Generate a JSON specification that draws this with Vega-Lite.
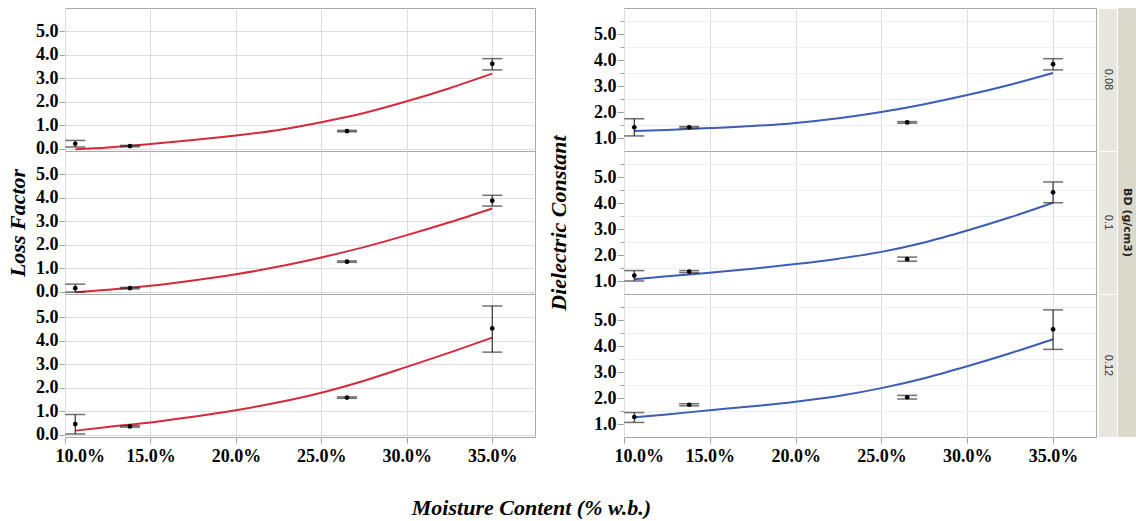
{
  "$schema": "https://vega.github.io/schema/vega-lite/v6.json",
  "padding": {"left": 6, "top": 7, "right": 0, "bottom": 0},
  "config": {
    "font": "Liberation Serif",
    "view": {"stroke": "#a8a8a8"},
    "axis": {
      "labelFont": "Liberation Serif", "labelFontSize": 18, "labelFontWeight": "bold", "labelColor": "#000000",
      "gridColor": "#dcdcdc", "domain": false, "tickColor": "#a0a0a0", "tickSize": 6, "labelPadding": 1, "title": null
    },
    "header": {
      "titleFont": "Liberation Serif", "titleFontSize": 22, "titleFontWeight": "bold", "titleFontStyle": "italic", "titleColor": "#000000",
      "labelPadding": 0
    }
  },
  "title": {
    "text": "Moisture Content (% w.b.)", "orient": "bottom", "anchor": "middle",
    "font": "Liberation Serif", "fontSize": 22, "fontStyle": "italic", "fontWeight": "bold", "color": "#000000",
    "offset": 33, "dx": -40
  },
  "datasets": {
    "lf": [
      {"BD": "0.08", "kind": "pt", "mc": 0.106, "mean": 0.21, "lo": 0.07, "hi": 0.35},
      {"BD": "0.08", "kind": "pt", "mc": 0.138, "mean": 0.11, "lo": 0.08, "hi": 0.14},
      {"BD": "0.08", "kind": "pt", "mc": 0.265, "mean": 0.75, "lo": 0.72, "hi": 0.78},
      {"BD": "0.08", "kind": "pt", "mc": 0.35, "mean": 3.62, "lo": 3.36, "hi": 3.84},
      {"BD": "0.1", "kind": "pt", "mc": 0.106, "mean": 0.15, "lo": -0.02, "hi": 0.32},
      {"BD": "0.1", "kind": "pt", "mc": 0.138, "mean": 0.15, "lo": 0.12, "hi": 0.18},
      {"BD": "0.1", "kind": "pt", "mc": 0.265, "mean": 1.28, "lo": 1.25, "hi": 1.31},
      {"BD": "0.1", "kind": "pt", "mc": 0.35, "mean": 3.88, "lo": 3.65, "hi": 4.11},
      {"BD": "0.12", "kind": "pt", "mc": 0.106, "mean": 0.45, "lo": 0.03, "hi": 0.86},
      {"BD": "0.12", "kind": "pt", "mc": 0.138, "mean": 0.35, "lo": 0.32, "hi": 0.38},
      {"BD": "0.12", "kind": "pt", "mc": 0.265, "mean": 1.58, "lo": 1.55, "hi": 1.61},
      {"BD": "0.12", "kind": "pt", "mc": 0.35, "mean": 4.53, "lo": 3.52, "hi": 5.49},
      {"BD": "0.08", "kind": "fit", "mc": 0.106, "val": -0.03},
      {"BD": "0.08", "kind": "fit", "mc": 0.125, "val": 0.05},
      {"BD": "0.08", "kind": "fit", "mc": 0.15, "val": 0.2},
      {"BD": "0.08", "kind": "fit", "mc": 0.175, "val": 0.37},
      {"BD": "0.08", "kind": "fit", "mc": 0.2, "val": 0.56},
      {"BD": "0.08", "kind": "fit", "mc": 0.225, "val": 0.8},
      {"BD": "0.08", "kind": "fit", "mc": 0.25, "val": 1.13},
      {"BD": "0.08", "kind": "fit", "mc": 0.275, "val": 1.52},
      {"BD": "0.08", "kind": "fit", "mc": 0.3, "val": 2.02},
      {"BD": "0.08", "kind": "fit", "mc": 0.325, "val": 2.58},
      {"BD": "0.08", "kind": "fit", "mc": 0.35, "val": 3.2},
      {"BD": "0.1", "kind": "fit", "mc": 0.106, "val": -0.03},
      {"BD": "0.1", "kind": "fit", "mc": 0.125, "val": 0.08},
      {"BD": "0.1", "kind": "fit", "mc": 0.15, "val": 0.25},
      {"BD": "0.1", "kind": "fit", "mc": 0.175, "val": 0.48},
      {"BD": "0.1", "kind": "fit", "mc": 0.2, "val": 0.74},
      {"BD": "0.1", "kind": "fit", "mc": 0.225, "val": 1.07},
      {"BD": "0.1", "kind": "fit", "mc": 0.25, "val": 1.46},
      {"BD": "0.1", "kind": "fit", "mc": 0.275, "val": 1.9},
      {"BD": "0.1", "kind": "fit", "mc": 0.3, "val": 2.41},
      {"BD": "0.1", "kind": "fit", "mc": 0.325, "val": 2.96},
      {"BD": "0.1", "kind": "fit", "mc": 0.35, "val": 3.55},
      {"BD": "0.12", "kind": "fit", "mc": 0.106, "val": 0.17},
      {"BD": "0.12", "kind": "fit", "mc": 0.125, "val": 0.33},
      {"BD": "0.12", "kind": "fit", "mc": 0.15, "val": 0.52},
      {"BD": "0.12", "kind": "fit", "mc": 0.175, "val": 0.76},
      {"BD": "0.12", "kind": "fit", "mc": 0.2, "val": 1.04},
      {"BD": "0.12", "kind": "fit", "mc": 0.225, "val": 1.38},
      {"BD": "0.12", "kind": "fit", "mc": 0.25, "val": 1.79},
      {"BD": "0.12", "kind": "fit", "mc": 0.275, "val": 2.3},
      {"BD": "0.12", "kind": "fit", "mc": 0.3, "val": 2.89},
      {"BD": "0.12", "kind": "fit", "mc": 0.325, "val": 3.5},
      {"BD": "0.12", "kind": "fit", "mc": 0.35, "val": 4.14}
    ],
    "dc": [
      {"BD": "0.08", "kind": "pt", "mc": 0.106, "mean": 1.41, "lo": 1.08, "hi": 1.74},
      {"BD": "0.08", "kind": "pt", "mc": 0.138, "mean": 1.41, "lo": 1.38, "hi": 1.44},
      {"BD": "0.08", "kind": "pt", "mc": 0.265, "mean": 1.6, "lo": 1.57, "hi": 1.63},
      {"BD": "0.08", "kind": "pt", "mc": 0.35, "mean": 3.84, "lo": 3.62, "hi": 4.05},
      {"BD": "0.1", "kind": "pt", "mc": 0.106, "mean": 1.21, "lo": 1.0, "hi": 1.4},
      {"BD": "0.1", "kind": "pt", "mc": 0.138, "mean": 1.36, "lo": 1.32, "hi": 1.4},
      {"BD": "0.1", "kind": "pt", "mc": 0.265, "mean": 1.84, "lo": 1.76, "hi": 1.92},
      {"BD": "0.1", "kind": "pt", "mc": 0.35, "mean": 4.41, "lo": 4.01, "hi": 4.81},
      {"BD": "0.12", "kind": "pt", "mc": 0.106, "mean": 1.27, "lo": 1.06, "hi": 1.44},
      {"BD": "0.12", "kind": "pt", "mc": 0.138, "mean": 1.74, "lo": 1.7, "hi": 1.78},
      {"BD": "0.12", "kind": "pt", "mc": 0.265, "mean": 2.03, "lo": 1.96, "hi": 2.1},
      {"BD": "0.12", "kind": "pt", "mc": 0.35, "mean": 4.64, "lo": 3.87, "hi": 5.39},
      {"BD": "0.08", "kind": "fit", "mc": 0.106, "val": 1.27},
      {"BD": "0.08", "kind": "fit", "mc": 0.125, "val": 1.31},
      {"BD": "0.08", "kind": "fit", "mc": 0.15, "val": 1.38},
      {"BD": "0.08", "kind": "fit", "mc": 0.175, "val": 1.46},
      {"BD": "0.08", "kind": "fit", "mc": 0.2, "val": 1.58},
      {"BD": "0.08", "kind": "fit", "mc": 0.225, "val": 1.76},
      {"BD": "0.08", "kind": "fit", "mc": 0.25, "val": 2.0},
      {"BD": "0.08", "kind": "fit", "mc": 0.275, "val": 2.3},
      {"BD": "0.08", "kind": "fit", "mc": 0.3, "val": 2.65},
      {"BD": "0.08", "kind": "fit", "mc": 0.325, "val": 3.05},
      {"BD": "0.08", "kind": "fit", "mc": 0.35, "val": 3.5},
      {"BD": "0.1", "kind": "fit", "mc": 0.106, "val": 1.07},
      {"BD": "0.1", "kind": "fit", "mc": 0.125, "val": 1.18},
      {"BD": "0.1", "kind": "fit", "mc": 0.15, "val": 1.32},
      {"BD": "0.1", "kind": "fit", "mc": 0.175, "val": 1.47},
      {"BD": "0.1", "kind": "fit", "mc": 0.2, "val": 1.65},
      {"BD": "0.1", "kind": "fit", "mc": 0.225, "val": 1.86},
      {"BD": "0.1", "kind": "fit", "mc": 0.25, "val": 2.12},
      {"BD": "0.1", "kind": "fit", "mc": 0.275, "val": 2.48},
      {"BD": "0.1", "kind": "fit", "mc": 0.3, "val": 2.94},
      {"BD": "0.1", "kind": "fit", "mc": 0.325, "val": 3.45},
      {"BD": "0.1", "kind": "fit", "mc": 0.35, "val": 4.01},
      {"BD": "0.12", "kind": "fit", "mc": 0.106, "val": 1.26},
      {"BD": "0.12", "kind": "fit", "mc": 0.125, "val": 1.37},
      {"BD": "0.12", "kind": "fit", "mc": 0.15, "val": 1.53},
      {"BD": "0.12", "kind": "fit", "mc": 0.175, "val": 1.68},
      {"BD": "0.12", "kind": "fit", "mc": 0.2, "val": 1.86},
      {"BD": "0.12", "kind": "fit", "mc": 0.225, "val": 2.08},
      {"BD": "0.12", "kind": "fit", "mc": 0.25, "val": 2.38},
      {"BD": "0.12", "kind": "fit", "mc": 0.275, "val": 2.76},
      {"BD": "0.12", "kind": "fit", "mc": 0.3, "val": 3.22},
      {"BD": "0.12", "kind": "fit", "mc": 0.325, "val": 3.72},
      {"BD": "0.12", "kind": "fit", "mc": 0.35, "val": 4.26}
    ],
    "bd": [{"BD": "0.08"}, {"BD": "0.1"}, {"BD": "0.12"}],
    "bdtitle": [{"label": "BD (g/cm3)"}]
  },
  "spacing": 11,
  "hconcat": [
    {
      "data": {"name": "lf"},
      "facet": {"row": {"field": "BD", "type": "nominal", "sort": ["0.08", "0.1", "0.12"], "header": {"title": "Loss Factor", "labels": false, "titlePadding": -5, "labelPadding": 0}}},
      "spacing": 0,
      "bounds": "flush",
      "spec": {
        "width": 470,
        "height": 143,
        "encoding": {
          "x": {"field": "mc", "type": "quantitative", "scale": {"domain": [0.1, 0.375], "nice": false, "zero": false},
                "axis": {"values": [0.1, 0.15, 0.2, 0.25, 0.3, 0.35], "format": ".1%", "labelFlush": true, "labelFlushOffset": 10, "labelPadding": 4, "tickSize": 6, "title": null}}
        },
        "resolve": {"axis": {"y": "independent"}},
        "layer": [
          {
            "transform": [{"filter": "datum.kind === 'fit'"}],
            "mark": {"type": "line", "color": "#d42a3c", "strokeWidth": 2, "interpolate": "monotone"},
            "encoding": {
              "y": {"field": "val", "type": "quantitative", "scale": {"domain": [-0.1, 6], "nice": false, "zero": false},
                    "axis": {"values": [0, 1, 2, 3, 4, 5], "format": ".1f", "orient": "left", "title": null}}
            }
          },
          {
            "transform": [{"filter": "datum.kind === 'pt'"}],
            "mark": {"type": "rule", "color": "#333333", "strokeWidth": 1.2},
            "encoding": {
              "y": {"field": "lo", "type": "quantitative", "axis": null},
              "y2": {"field": "hi"}
            }
          },
          {
            "transform": [{"filter": "datum.kind === 'pt'"}],
            "mark": {"type": "tick", "orient": "horizontal", "color": "#333333", "size": 20, "thickness": 1.5},
            "encoding": {"y": {"field": "lo", "type": "quantitative", "axis": null}}
          },
          {
            "transform": [{"filter": "datum.kind === 'pt'"}],
            "mark": {"type": "tick", "orient": "horizontal", "color": "#333333", "size": 20, "thickness": 1.5},
            "encoding": {"y": {"field": "hi", "type": "quantitative", "axis": null}}
          },
          {
            "transform": [{"filter": "datum.kind === 'pt'"}],
            "mark": {"type": "point", "filled": true, "color": "#000000", "size": 22, "opacity": 1},
            "encoding": {"y": {"field": "mean", "type": "quantitative", "axis": null}}
          }
        ]
      }
    },
    {
      "spacing": 0,
      "hconcat": [
        {
          "data": {"name": "dc"},
          "facet": {"row": {"field": "BD", "type": "nominal", "sort": ["0.08", "0.1", "0.12"], "header": {"title": "Dielectric Constant", "labels": false, "titlePadding": 12, "labelPadding": 0}}},
          "spacing": 0,
          "bounds": "flush",
          "spec": {
            "width": 472,
            "height": 143,
            "encoding": {
              "x": {"field": "mc", "type": "quantitative", "scale": {"domain": [0.1, 0.375], "nice": false, "zero": false},
                    "axis": {"values": [0.1, 0.15, 0.2, 0.25, 0.3, 0.35], "format": ".1%", "labelFlush": true, "labelFlushOffset": 10, "labelPadding": 4, "tickSize": 6, "title": null}}
            },
            "resolve": {"axis": {"y": "independent"}},
            "layer": [
              {
                "transform": [{"filter": "datum.kind === 'fit'"}],
                "mark": {"type": "line", "color": "#3b5db5", "strokeWidth": 2, "interpolate": "monotone"},
                "encoding": {
                  "y": {"field": "val", "type": "quantitative", "scale": {"domain": [0.5, 6], "nice": false, "zero": false},
                        "axis": {"values": [1.5, 2.5, 3.5, 4.5, 5.5], "labels": false, "tickSize": 4, "gridColor": "#eeeeee", "orient": "left", "title": null}}
                }
              },
              {
                "transform": [{"filter": "datum.kind === 'pt'"}],
                "mark": {"type": "rule", "color": "#333333", "strokeWidth": 1.2},
                "encoding": {
                  "y": {"field": "lo", "type": "quantitative", "axis": null},
                  "y2": {"field": "hi"}
                }
              },
              {
                "transform": [{"filter": "datum.kind === 'pt'"}],
                "mark": {"type": "tick", "orient": "horizontal", "color": "#333333", "size": 20, "thickness": 1.5},
                "encoding": {"y": {"field": "lo", "type": "quantitative", "axis": null}}
              },
              {
                "transform": [{"filter": "datum.kind === 'pt'"}],
                "mark": {"type": "tick", "orient": "horizontal", "color": "#333333", "size": 20, "thickness": 1.5},
                "encoding": {"y": {"field": "hi", "type": "quantitative", "axis": null}}
              },
              {
                "transform": [{"filter": "datum.kind === 'pt'"}],
                "mark": {"type": "point", "filled": true, "color": "#000000", "size": 22, "opacity": 1},
                "encoding": {"y": {"field": "mean", "type": "quantitative",
                  "axis": {"values": [1, 2, 3, 4, 5], "format": ".1f", "orient": "left", "tickSize": 7, "title": null}}}
              }
            ]
          }
        },
        {
          "data": {"name": "bd"},
          "facet": {"row": {"field": "BD", "type": "nominal", "sort": ["0.08", "0.1", "0.12"], "header": null}},
          "spacing": 0,
          "bounds": "flush",
          "spec": {
            "width": 19,
            "height": 143,
            "view": {"fill": "#e8e7df", "stroke": "#ffffff"},
            "mark": {"type": "text", "angle": 90, "font": "Liberation Sans", "fontSize": 11, "color": "#333333"},
            "encoding": {"text": {"field": "BD"}}
          }
        },
        {
          "data": {"name": "bdtitle"},
          "width": 18,
          "height": 429,
          "view": {"fill": "#dbd9cc", "stroke": null},
          "mark": {"type": "text", "angle": 90, "font": "DejaVu Sans", "fontWeight": "bold", "fontSize": 11, "color": "#222222"},
          "encoding": {"text": {"field": "label"}}
        }
      ]
    }
  ]
}
